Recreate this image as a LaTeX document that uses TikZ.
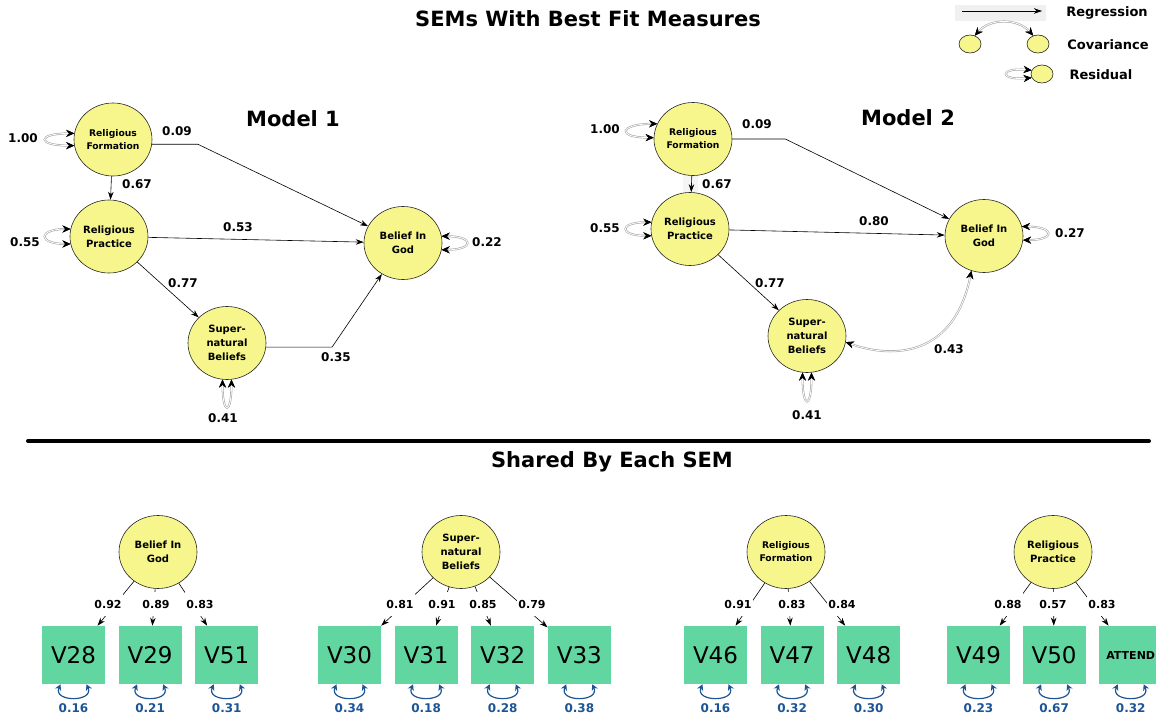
\documentclass[tikz,border=0pt]{standalone}
\usepackage{fontspec}
\setmainfont{DejaVu Sans}
\usetikzlibrary{arrows.meta, shapes.geometric, positioning}

\definecolor{latyellow}{RGB}{246,246,140}
\definecolor{obsgreen}{RGB}{98,214,160}
\definecolor{resblue}{RGB}{28,84,148}

\begin{document}
\begin{tikzpicture}[x=1pt, y=-1pt, >={Stealth[length=8pt,width=5.5pt]}, line width=0.6pt,
  latent/.style={ellipse, draw=black!85, fill=latyellow, minimum width=78pt, minimum height=73pt, inner sep=0pt, align=center, font=\fontsize{10}{14}\selectfont\bfseries},
  smalllatent/.style={latent, font=\fontsize{9.2}{13}\selectfont\bfseries},
  manifest/.style={rectangle, fill=obsgreen, minimum width=63pt, minimum height=58pt, inner sep=0pt, font=\fontsize{23}{23}\selectfont},
  coef/.style={font=\fontsize{12}{12}\selectfont\bfseries, inner sep=1pt},
  load/.style={font=\fontsize{11}{11}\selectfont\bfseries, fill=white, inner xsep=1pt, inner ysep=8pt},
  resval/.style={font=\fontsize{12}{12}\selectfont\bfseries, text=resblue, inner sep=1pt},
  heading/.style={font=\fontsize{21}{21}\selectfont\bfseries},
  legtext/.style={font=\fontsize{13}{13}\selectfont\bfseries},
  selfloop/.style={draw=white, line width=0.8pt, preaction={draw=gray!70, line width=2pt},
    {Stealth[black,length=8pt,width=7pt]}-{Stealth[black,length=8pt,width=7pt]}},
  bres/.style={draw=resblue, line width=1.2pt, {Stealth[resblue,length=6pt,width=6.5pt]}-{Stealth[resblue,length=6pt,width=6.5pt]}},
  legell/.style={ellipse, draw=black!85, fill=latyellow, minimum width=22pt, minimum height=18pt, inner sep=0pt}]

  \useasboundingbox (0,0) rectangle (1156,719);

  % titles
  \node[heading] (title)  at (588,19)  {SEMs With Best Fit Measures};
  \node[heading] (model1) at (293,119) {Model 1};
  \node[heading] (model2) at (908,118) {Model 2};
  \node[heading] (shared) at (612,462) {Shared By Each SEM};
  \draw[line width=4pt, line cap=round] (28,441) -- (1149,441);

  % legend
  \fill[gray!12] (955,5) rectangle (1046,21);
  \coordinate (regs) at (962,11);
  \coordinate (rege) at (1042,11);
  \draw[->] (regs) -- (rege);
  \node[legtext] (lreg) at (1107,13) {Regression};
  \node[legell] (cova) at (970,44) {};
  \node[legell] (covb) at (1038,44) {};
  \draw[selfloop] (cova.60) .. controls (990,18) and (1018,18) .. (covb.120);
  \node[legtext] (lcov) at (1108,45) {Covariance};
  \node[legell] (resd) at (1042,74) {};
  \draw[selfloop] (resd.160) .. controls +(-33,-3) and +(-33,3) .. (resd.200);
  \node[legtext] (lres) at (1101,75) {Residual};

  % Model 1
  \node[smalllatent] (rf1) at (113,139.5) {Religious\\Formation};
  \node[latent]      (rp1) at (109,236.5) {Religious\\Practice};
  \node[latent]      (bg1) at (403,243)   {Belief In\\God};
  \node[latent]      (sb1) at (227,343)   {Super-\\natural\\Beliefs};

  \path[->]
  (rf1) edge (rp1)
  (rp1) edge (bg1)
        edge (sb1);
  \draw[->] (rf1.-7) -- ++(46,0) -- (bg1);
  \draw[->] (sb1.-6) -- ++(66,0) -- (bg1);

  \draw[selfloop] (rf1.171) .. controls +(-38,0) and +(-38,0) .. (rf1.189);
  \draw[selfloop] (rp1.169) .. controls +(-33,0) and +(-33,0) .. (rp1.191);
  \draw[selfloop] (bg1.10) .. controls +(33,0) and +(33,0) .. (bg1.-10);
  \draw[selfloop] (sb1.-83) .. controls +(0,36) and +(0,36) .. (sb1.-97);

  \node[coef] (c1a) at (23,138)  {1.00};
  \node[coef] (c1b) at (177,131) {0.09};
  \node[coef] (c1c) at (137,184) {0.67};
  \node[coef] (c1d) at (25,242)  {0.55};
  \node[coef] (c1e) at (238,227) {0.53};
  \node[coef] (c1f) at (487,242) {0.22};
  \node[coef] (c1g) at (183,283) {0.77};
  \node[coef] (c1h) at (336,357) {0.35};
  \node[coef] (c1i) at (223,418) {0.41};

  % Model 2
  \fill[gray!8] (683,168) rectangle (698,195);
  \node[smalllatent] (rf2) at (693,139) {Religious\\Formation};
  \node[latent]      (rp2) at (690,229) {Religious\\Practice};
  \node[latent]      (bg2) at (984,236) {Belief In\\God};
  \node[latent]      (sb2) at (807,336) {Super-\\natural\\Beliefs};

  \path[->]
  (rf2) edge (rp2)
  (rp2) edge (bg2)
        edge (sb2);
  \draw[->] (rf2.east) -- ++(53,0) -- (bg2);
  \draw[selfloop] (sb2.-9) .. controls (895,360) and (955,355) .. (bg2.-110);

  \draw[selfloop] (rf2.157) .. controls +(-38,0) and +(-38,0) .. (rf2.178);
  \draw[selfloop] (rp2.170) .. controls +(-33,0) and +(-33,0) .. (rp2.190);
  \draw[selfloop] (bg2.14) .. controls +(33,0) and +(33,0) .. (bg2.-6);
  \draw[selfloop] (sb2.-83) .. controls +(0,37) and +(0,37) .. (sb2.-97);

  \node[coef] (c2a) at (605,129)  {1.00};
  \node[coef] (c2b) at (757,124)  {0.09};
  \node[coef] (c2c) at (717,184)  {0.67};
  \node[coef] (c2d) at (605,228)  {0.55};
  \node[coef] (c2e) at (874,221)  {0.80};
  \node[coef] (c2f) at (1070,233) {0.27};
  \node[coef] (c2g) at (770,283)  {0.77};
  \node[coef] (c2h) at (949,349)  {0.43};
  \node[coef] (c2i) at (807,415)  {0.41};

  % shared measurement part
  \node[latent]      (g1) at (158,552)  {Belief In\\God};
  \node[latent]      (g2) at (461,552)  {Super-\\natural\\Beliefs};
  \node[smalllatent] (g3) at (786,552)  {Religious\\Formation};
  \node[latent]      (g4) at (1053,552) {Religious\\Practice};

  \node[manifest] (v28) at (73.5,655) {V28};
  \node[manifest, right=13pt of v28] (v29) {V29};
  \node[manifest, right=13pt of v29] (v51) {V51};
  \node[manifest] (v30) at (349.5,655) {V30};
  \node[manifest, right=13pt of v30] (v31) {V31};
  \node[manifest, right=13pt of v31] (v32) {V32};
  \node[manifest, right=13pt of v32] (v33) {V33};
  \node[manifest] (v46) at (715.5,655) {V46};
  \node[manifest, right=13pt of v46] (v47) {V47};
  \node[manifest, right=13pt of v47] (v48) {V48};
  \node[manifest] (v49) at (978.5,655) {V49};
  \node[manifest, right=12pt of v49] (v50) {V50};
  \node[manifest, right=13pt of v50, font=\fontsize{11}{11}\selectfont\bfseries] (attend) {ATTEND};

  \path[->]
  (g1) edge (v28) edge (v29) edge (v51)
  (g2) edge (v30) edge (v31) edge (v32) edge (v33)
  (g3) edge (v46) edge (v47) edge (v48)
  (g4) edge (v49) edge (v50) edge (attend);

  \node[load] (l28) at (108,604)  {0.92};
  \node[load] (l29) at (156,604)  {0.89};
  \node[load] (l51) at (200,604)  {0.83};
  \node[load] (l30) at (400,604)  {0.81};
  \node[load] (l31) at (442,604)  {0.91};
  \node[load] (l32) at (483,604)  {0.85};
  \node[load] (l33) at (532,604)  {0.79};
  \node[load] (l46) at (738,604)  {0.91};
  \node[load] (l47) at (792,604)  {0.83};
  \node[load] (l48) at (842,604)  {0.84};
  \node[load] (l49) at (1008,604) {0.88};
  \node[load] (l50) at (1053,604) {0.57};
  \node[load] (lat) at (1102,604) {0.83};

  \draw[bres] ([xshift=-13pt]v28.south) .. controls +(-8,18) and +(8,18) .. ([xshift=13pt]v28.south);
  \draw[bres] ([xshift=-13pt]v29.south) .. controls +(-8,18) and +(8,18) .. ([xshift=13pt]v29.south);
  \draw[bres] ([xshift=-13pt]v51.south) .. controls +(-8,18) and +(8,18) .. ([xshift=13pt]v51.south);
  \draw[bres] ([xshift=-13pt]v30.south) .. controls +(-8,18) and +(8,18) .. ([xshift=13pt]v30.south);
  \draw[bres] ([xshift=-13pt]v31.south) .. controls +(-8,18) and +(8,18) .. ([xshift=13pt]v31.south);
  \draw[bres] ([xshift=-13pt]v32.south) .. controls +(-8,18) and +(8,18) .. ([xshift=13pt]v32.south);
  \draw[bres] ([xshift=-13pt]v33.south) .. controls +(-8,18) and +(8,18) .. ([xshift=13pt]v33.south);
  \draw[bres] ([xshift=-13pt]v46.south) .. controls +(-8,18) and +(8,18) .. ([xshift=13pt]v46.south);
  \draw[bres] ([xshift=-13pt]v47.south) .. controls +(-8,18) and +(8,18) .. ([xshift=13pt]v47.south);
  \draw[bres] ([xshift=-13pt]v48.south) .. controls +(-8,18) and +(8,18) .. ([xshift=13pt]v48.south);
  \draw[bres] ([xshift=-13pt]v49.south) .. controls +(-8,18) and +(8,18) .. ([xshift=13pt]v49.south);
  \draw[bres] ([xshift=-13pt]v50.south) .. controls +(-8,18) and +(8,18) .. ([xshift=13pt]v50.south);
  \draw[bres] ([xshift=-13pt]attend.south) .. controls +(-8,18) and +(8,18) .. ([xshift=13pt]attend.south);

  \node[resval] (r28) at ([yshift=-24pt]v28.south) {0.16};
  \node[resval] (r29) at ([yshift=-24pt]v29.south) {0.21};
  \node[resval] (r51) at ([yshift=-24pt]v51.south) {0.31};
  \node[resval] (r30) at ([yshift=-24pt]v30.south) {0.34};
  \node[resval] (r31) at ([yshift=-24pt]v31.south) {0.18};
  \node[resval] (r32) at ([yshift=-24pt]v32.south) {0.28};
  \node[resval] (r33) at ([yshift=-24pt]v33.south) {0.38};
  \node[resval] (r46) at ([yshift=-24pt]v46.south) {0.16};
  \node[resval] (r47) at ([yshift=-24pt]v47.south) {0.32};
  \node[resval] (r48) at ([yshift=-24pt]v48.south) {0.30};
  \node[resval] (r49) at ([yshift=-24pt]v49.south) {0.23};
  \node[resval] (r50) at ([yshift=-24pt]v50.south) {0.67};
  \node[resval] (rat) at ([yshift=-24pt]attend.south) {0.32};

\end{tikzpicture}
\end{document}
